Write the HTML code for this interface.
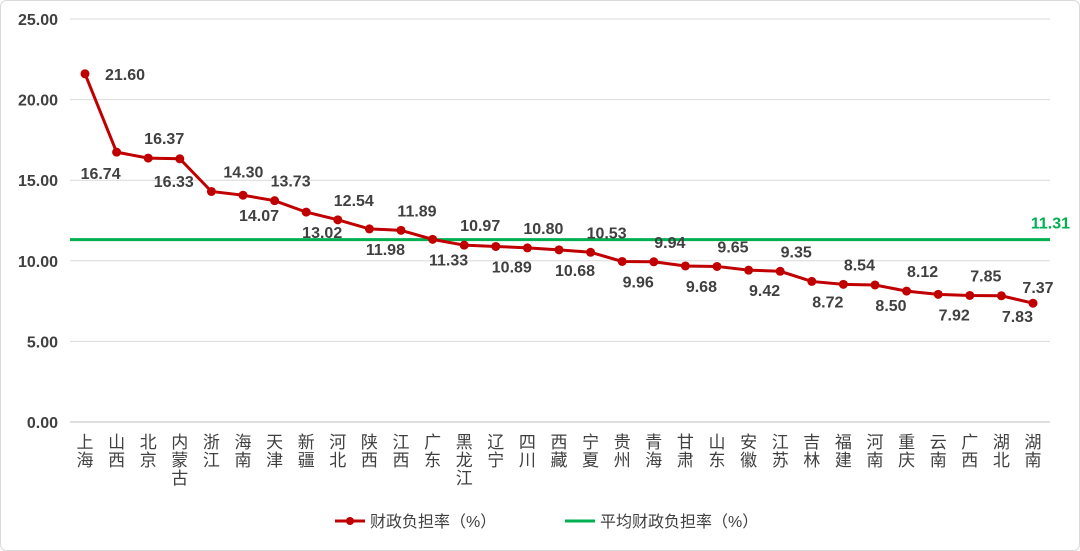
<!DOCTYPE html>
<html><head><meta charset="utf-8">
<style>
body{margin:0;background:#fff;}
svg{display:block;font-family:"Liberation Sans","Noto Sans CJK SC",sans-serif;}
</style></head>
<body>
<svg id="chart" width="1080" height="551" viewBox="0 0 1080 551" xmlns="http://www.w3.org/2000/svg">
<rect x="0.5" y="0.5" width="1079" height="550" rx="6" fill="#fff" stroke="#d9d9d9"/>
<g id="grid"></g><g id="yaxis"></g><g id="xaxis"></g><g id="series"></g><g id="labels"></g>
<g>
<g>
<line x1="335" y1="521" x2="365" y2="521" stroke="#c00000" stroke-width="3"/>
<circle cx="350" cy="521" r="4" fill="#c00000"/>
<text x="370" y="527" font-size="16" fill="#404040">财政负担率（%）</text></g>
<g>
<line x1="565" y1="521" x2="595" y2="521" stroke="#00b050" stroke-width="3"/>
<text x="600" y="527" font-size="16" fill="#404040">平均财政负担率（%）</text></g>
</g>
</svg>
<script>
const categories=["上海","山西","北京","内蒙古","浙江","海南","天津","新疆","河北","陕西","江西","广东","黑龙江","辽宁","四川","西藏","宁夏","贵州","青海","甘肃","山东","安徽","江苏","吉林","福建","河南","重庆","云南","广西","湖北","湖南"];
const values=[21.60,16.74,16.37,16.33,14.30,14.07,13.73,13.02,12.54,11.98,11.89,11.33,10.97,10.89,10.80,10.68,10.53,9.96,9.94,9.68,9.65,9.42,9.35,8.72,8.54,8.50,8.12,7.92,7.85,7.83,7.37];
const average=11.31;
const yTicks=[0,5,10,15,20,25];
const labelSide=["R","BL","A","BC","AF","B","A","B","A","B","A","B","A","B","A","B","A","B","A","B","A","B","A","B","A","B","A","B","A","B","AR"];
const NS="http://www.w3.org/2000/svg";
const x0=85,x1=1033,plotL=70,plotR=1050;
const xs=i=>x0+i*(x1-x0)/(categories.length-1);
const ys=v=>422-v*(422-19)/25;
function mk(tag,attrs,parent,txt){const e=document.createElementNS(NS,tag);for(const k in attrs)e.setAttribute(k,attrs[k]);if(txt!==undefined)e.textContent=txt;parent.appendChild(e);return e;}
const grid=document.getElementById('grid'),yax=document.getElementById('yaxis'),xax=document.getElementById('xaxis'),ser=document.getElementById('series'),lab=document.getElementById('labels');
yTicks.forEach(t=>{
 const g=mk('line',{x1:plotL,x2:plotR,y1:ys(t),y2:ys(t),stroke:t===0?'#bfbfbf':'#d9d9d9','stroke-width':1},grid);
 
 
 const tl=mk('text',{x:58,y:ys(t)+6,'text-anchor':'end','font-size':16,'font-weight':'bold',fill:'#404040'},yax,t.toFixed(2));
 
 
});
categories.forEach((c,i)=>{
 const t=mk('text',{'text-anchor':'middle','font-size':17,fill:'#404040'},xax);
 
 
 [...c].forEach((ch,j)=>mk('tspan',{x:xs(i),y:448+j*18},t,ch));
});
const avg=mk('line',{x1:plotL,x2:plotR,y1:ys(average),y2:ys(average),stroke:'#00b050','stroke-width':3},ser);


const avgL=mk('text',{x:1070,y:ys(average)-11,'text-anchor':'end','font-size':16,'font-weight':'bold',fill:'#00b050'},lab,average.toFixed(2));


const path=mk('polyline',{points:values.map((v,i)=>xs(i)+','+ys(v)).join(' '),fill:'none',stroke:'#c00000','stroke-width':3},ser);


values.forEach((v,i)=>{
 const c=mk('circle',{cx:xs(i),cy:ys(v),r:4.5,fill:'#c00000'},ser);
 
 
 const s=labelSide[i];let lx=xs(i)+16,ly=ys(v)-14,anc='middle';
 if(s==='B'){lx=xs(i)+16;ly=ys(v)+26;}
 if(s==='BC'){lx=xs(i)-6;ly=ys(v)+28;}
 if(s==='AF'){lx=xs(i)+32;ly=ys(v)-14;}
 if(s==='BL'){lx=xs(i)-16;ly=ys(v)+27;}
 if(s==='R'){lx=xs(i)+20;ly=ys(v)+6;anc='start';}
 if(s==='AR'){lx=xs(i)+5;ly=ys(v)-10;}
 const t=mk('text',{x:lx,y:ly,'text-anchor':anc,'font-size':16,'font-weight':'bold',fill:'#404040'},lab,v.toFixed(2));
 
 
});
</script>
</body></html>
